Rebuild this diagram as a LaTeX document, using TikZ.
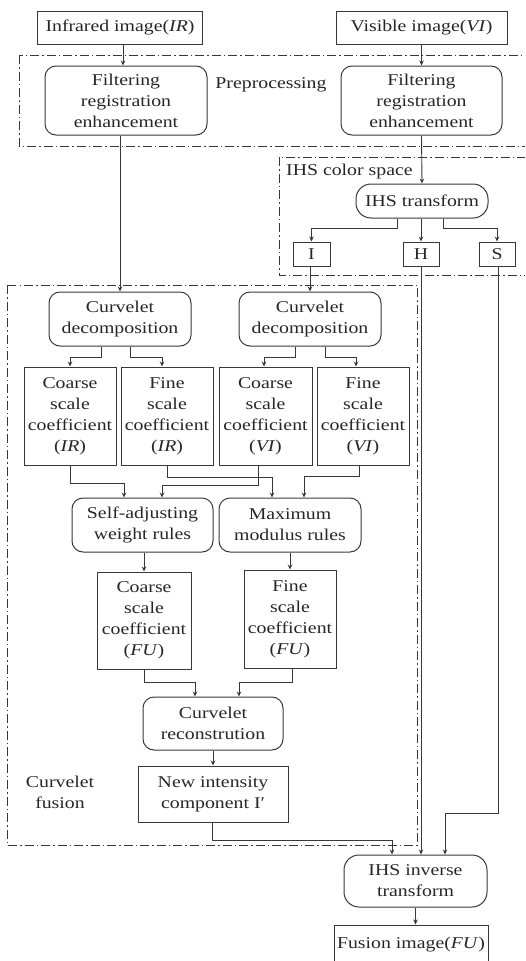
\documentclass[tikz,border=0pt]{standalone}
\usepackage{fontspec}
\setmainfont{Liberation Serif}[FakeStretch=1.2]
\usetikzlibrary{arrows.meta,calc}
\definecolor{ink}{gray}{0.22}
\begin{document}
\begin{tikzpicture}[x=1pt,y=-1pt,
  every node/.style={font=\fontsize{16.5}{21}\selectfont, text=black!85},
  box/.style={draw=ink, line width=1pt, inner sep=0pt, align=center},
  rbox/.style={box, rounded corners=11pt},
  pill/.style={box, rounded corners=15pt},
  grp/.style={draw=ink, line width=0.9pt, dash pattern=on 9pt off 3pt on 1.5pt off 3pt},
  arr/.style={draw=ink, line width=0.9pt, -{Stealth[length=5pt,width=4.5pt]}},
]
\path[use as bounding box] (0,0) rectangle (525,961);
\clip (0,0) rectangle (525,961);
% group frames
\draw[grp] (19,55) rectangle (532,146);
\draw[grp] (279,157) rectangle (532,275);
\draw[grp] (7,285) rectangle (417,845);
% top
\node[box, minimum width=165pt, minimum height=33pt] (ir) at (120,27.5) {Infrared image(\textit{IR})};
\node[box, minimum width=171pt, minimum height=33pt] (vi) at (421.5,27.5) {Visible image(\textit{VI})};
\node[rbox, minimum width=162pt, minimum height=69pt] (fl) at (126,100.5) {Filtering\\registration\\enhancement};
\node[rbox, minimum width=161pt, minimum height=69pt] (fr) at (421.5,100.5) {Filtering\\registration\\enhancement};
\node (pre) at (271,85) {Preprocessing};
\node[anchor=west, inner sep=0pt] (ihscs) at (286,172) {IHS color space};
\node[pill, minimum width=132pt, minimum height=34pt] (ihst) at (422,201) {IHS transform};
\node[box, minimum width=37pt, minimum height=24pt] (ci) at (311.5,254) {I};
\node[box, minimum width=36pt, minimum height=24pt] (ch) at (421,254) {H};
\node[box, minimum width=36pt, minimum height=24pt] (cs) at (497,254) {S};
% curvelet fusion
\node[rbox, minimum width=142pt, minimum height=54pt] (cdl) at (120,319) {Curvelet\\decomposition};
\node[rbox, minimum width=142pt, minimum height=54pt] (cdr) at (310,319) {Curvelet\\decomposition};
\node[box, minimum width=92pt, minimum height=98pt] (cil) at (70,416) {Coarse\\scale\\coefficient\\(\textit{IR})};
\node[box, minimum width=92pt, minimum height=98pt] (fil) at (167,416) {Fine\\scale\\coefficient\\(\textit{IR})};
\node[box, minimum width=93pt, minimum height=98pt] (cvi) at (265.5,416) {Coarse\\scale\\coefficient\\(\textit{VI})};
\node[box, minimum width=92pt, minimum height=98pt] (fvi) at (363,416) {Fine\\scale\\coefficient\\(\textit{VI})};
\node[rbox, minimum width=141pt, minimum height=54pt] (saw) at (142.5,525) {Self-adjusting\\weight rules};
\node[rbox, minimum width=142pt, minimum height=54pt] (mm) at (290,525) {Maximum\\modulus rules};
\node[box, minimum width=94pt, minimum height=97pt] (cfu) at (144,620.5) {Coarse\\scale\\coefficient\\(\textit{FU})};
\node[box, minimum width=92pt, minimum height=98pt] (ffu) at (290,619) {Fine\\scale\\coefficient\\(\textit{FU})};
\node[rbox, minimum width=140pt, minimum height=53pt] (cr) at (213,723.5) {Curvelet\\reconstrution};
\node[box, minimum width=150pt, minimum height=56pt] (ni) at (213,794) {New intensity\\component I\char"2032};
\node[align=center] (cft) at (60,792) {Curvelet\\fusion};
% bottom
\node[pill, minimum width=143pt, minimum height=52pt] (inv) at (415.5,881) {IHS inverse\\transform};
\node[box, minimum width=154pt, minimum height=40pt] (fus) at (411,945) {Fusion image(\textit{FU})};
% connectors
\draw[arr] ([xshift=3pt]ir.south) -- ([xshift=3pt]ir.south |- fl.north);
\draw[arr] (vi.south) -- (vi.south |- fr.north);
\draw[arr] (fl.south -| cdl.north) -- (cdl.north);
\draw[arr] (fr.south) -- (ihst.north);
\draw[arr] ([xshift=-25pt]ihst.south) -- ++(0,10) -| (ci.north);
\draw[arr] (ihst.south -| ch.north) -- (ch.north);
\draw[arr] ([xshift=21pt]ihst.south) -- ++(0,10) -| (cs.north);
\draw[arr] (ci.south -| cdr.north) -- (cdr.north);
\draw[arr] ([xshift=-19pt]cdl.south) -- ++(0,11) -| (cil.north);
\draw[arr] ([xshift=10pt]cdl.south) -- ++(0,11) -| ([xshift=-5pt]fil.north);
\draw[arr] ([xshift=-15pt]cdr.south) -- ++(0,11) -| ([xshift=-1.5pt]cvi.north);
\draw[arr] ([xshift=15pt]cdr.south) -- ++(0,11) -| ([xshift=-7pt]fvi.north);
\draw[arr] (cil.south) -- ++(0,18) -| ([xshift=-18.5pt]saw.north);
\draw[arr] (fil.south) -- ++(0,12) -| ([xshift=-18pt]mm.north);
\draw[arr] ([xshift=-7.5pt]cvi.south) -- ++(0,20) -| ([xshift=19.5pt]saw.north);
\draw[arr] ([xshift=-4pt]fvi.south) -- ++(0,11) -| ([xshift=14pt]mm.north);
\draw[arr] (saw.south -| cfu.north) -- (cfu.north);
\draw[arr] (mm.south) -- (ffu.north);
\draw[arr] (cfu.south) -- ++(0,13) -| ([xshift=-18pt]cr.north);
\draw[arr] ([xshift=2pt]ffu.south) -- ++(0,14) -| ([xshift=26pt]cr.north);
\draw[arr] (cr.south) -- (ni.north);
\draw[arr] ([xshift=-1pt]ni.south) -- ++(0,18) -| ([xshift=-23.5pt]inv.north);
\draw[arr] (ch.south) -- (ch.south |- inv.north);
\draw[arr] ([xshift=1pt]cs.south) -- (498,813) -| ([xshift=29.5pt]inv.north);
\draw[arr] (inv.south) -- (inv.south |- fus.north);
\end{tikzpicture}
\end{document}
